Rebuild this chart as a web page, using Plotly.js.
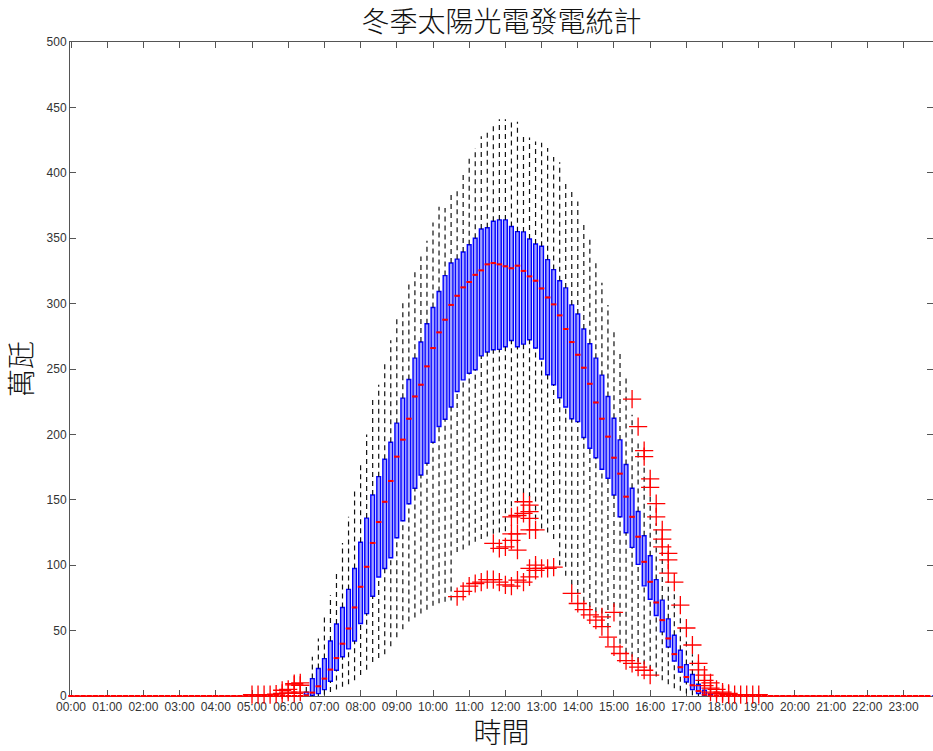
<!DOCTYPE html>
<html><head><meta charset="utf-8">
<script src="https://cdn.plot.ly/plotly-3.0.1.min.js"></script>
<style>html,body{margin:0;padding:0;background:#fff}#chart{width:933px;height:751px}</style>
</head><body><div id="chart"></div><script>
// 10-minute slots 00:00 .. 23:50 (144 slots)
const hourLabels = ["00:00","01:00","02:00","03:00","04:00","05:00","06:00","07:00","08:00","09:00","10:00","11:00",
  "12:00","13:00","14:00","15:00","16:00","17:00","18:00","19:00","20:00","21:00","22:00","23:00"];
const hourTickSlots = [0,6,12,18,24,30,36,42,48,54,60,66,72,78,84,90,96,102,108,114,120,126,132,138];

const lowerWhisker = [
  0,0,0,0,0,0,0,0,0,0, 0,0,0,0,0,0,0,0,0,0, 0,0,0,0,0,0,0,0,0,0, 0,0,0,0,0,0,0,0,0,
  0,0,0,1,3,5,7,9,12,16, 20,26,29,32,38,45,51,57,60,63, 66,69,71,72,73,110,112,115,118,120,
  122,124,125,126,145,148,155,152,135,128, 125,120,100,92,85,78,72,68,64,63, 52,68,40,33,30,26,24,20,15,12,
  9,6,4,2,0.5,0,0,0,
  0,0,0,0,0,0,0,0,0,0, 0,0,0,0,0,0,0,0,0,0, 0,0,0,0,0,0,0,0,0,0, 0,0,0,0,0,0,0];
const q1 = [
  0,0,0,0,0,0,0,0,0,0, 0,0,0,0,0,0,0,0,0,0, 0,0,0,0,0,0,0,0,0,0, 0,0,0,0,0,0,0,0,0,
  0,0.5,1.8,4.9,11.3,19.7,30,36,42,55.4, 63,76.3,91,97.5,105.7,121,134,147,158.8,169,
  178,194,206,211.6,221,232.8,241.7,246.8,249.4,260, 263,264.7,265,267,271.8,267,269,272.4,266,257.6,
  245.6,238,228,221,212,209.8,197.6,189.4,182.2,173.3, 166.5,153.7,137,124.8,113.6,100.6,84.2,74,61.5,49,
  37.5,26.8,18.4,10.7,4.9,1.8,0.5,0,
  0,0,0,0,0,0,0,0,0,0, 0,0,0,0,0,0,0,0,0,0, 0,0,0,0,0,0,0,0,0,0, 0,0,0,0,0,0,0];
const median = [
  0,0,0,0,0,0,0,0,0,0, 0,0,0,0,0,0,0,0,0,0, 0,0,0,0,0,0,0,0,0,0, 0,0,0,0,0,0,0,0,0,
  0.5,2.6,7.4,13.3,20.2,29,40,51.6,67.7,83.5, 98.8,117,133,148.5,164.4,183,196,212,229,238,
  252,266,278,287.7,299,306,312.4,316.5,322,325.4, 330,331,330,328.5,327,329,325,320.8,317.5,311.6,
  304.7,299.4,291,280.6,270.6,260.9,251,238.7,224.4,212, 198.3,182.2,170,152.4,137,121.8,102.6,87.3,71.5,58,
  44,32,22,14.5,8.2,3.8,1,0.3,
  0,0,0,0,0,0,0,0,0,0, 0,0,0,0,0,0,0,0,0,0, 0,0,0,0,0,0,0,0,0,0, 0,0,0,0,0,0,0];
const q3 = [
  0,0,0,0,0,0,0,0,0,0, 0,0,0,0,0,0,0,0,0,0, 0,0,0,0,0,0,0,0,0,0, 0,0,0,0,0,0,0,0,0,
  3,13.3,21,28.6,42,55,67.7,81.5,97.5,117.5, 136,153.7,167.7,181,194,208.6,227.7,242,258.3,270.6,
  284.6,297,309.3,321.4,331,334,339.5,345,350,357, 358,363,364,364,359,355,354.8,349.4,345.6,343.8,
  333.6,326,317.5,312,299,292,280.6,269.3,258.3,245.3, 229,212.4,195.8,177,158.8,141,122.5,107.2,89,73.3,
  59,46.5,35,24,16.4,9,4.4,1,
  0,0,0,0,0,0,0,0,0,0, 0,0,0,0,0,0,0,0,0,0, 0,0,0,0,0,0,0,0,0,0, 0,0,0,0,0,0,0];
const upperWhisker = [
  0,0,0,0,0,0,0,0,0,0, 0,0,0,0,0,0,0,0,0,0, 0,0,0,0,0,0,0,0,0,0, 0,0,0,0,0,0,0,0,0,
  10,30,44,60,77,96,117,137,157,179, 200,228,238,255,272,288,303,317,324,336,
  348,362,374,373,383,389,401,411,419,428, 433,438,441,441,439,439,429,427,424,423,
  419,412,408,393,388,378,362,350,332,316, 299,281,263,245,215,195,175,155,132,110,
  88,78,60,45,32,18,6,2.5,
  0,0,0,0,0,0,0,0,0,0, 0,0,0,0,0,0,0,0,0,0, 0,0,0,0,0,0,0,0,0,0, 0,0,0,0,0,0,0];

// outliers: slot index and value
const outlierSlot = [30,31,32,33,34,35,35,36,36,37,37,37,38,38,38,
  64,65,66,67,68,69,70,70,71,71,72,72,73,73,73,73,74,74,74,74,75,75,75,
  76,76,76,76,76,76,77,77,77,78,79,80,83,84,85,86,87,88,88,89,90,90,91,92,
  93,93,94,94,95,95,95,96,96,96,97,97,98,98,98,99,99,99,100,101,102,103,
  104,104,105,105,105,106,106,106,107,107,108,108,109,109,110,111,112,113,114];
const outlierValue = [1,1,1,1,1.5,2,4.4,3,5,2,8.5,9.5,3,8.2,10,
  76,80,84,86,87,89,89,116.7,87,112.8,85,114,84,119,124,137,88.6,111.5,124,138,87,139.6,148.5,
  91,97.5,127,135.8,141,146,96,100,127,97.5,97.5,98.5,78.4,70.7,66,62,58,60.5,53,45,37.5,64,32.5,27,
  25,227,22,206,19.7,187.6,183,16,166,159.5,147,137,127,120,114,109,104,94,87,69.4,52,39,
  25,20,16,12,8,10,6,3,5,2,3,1.5,2,1,1,1,1,1,1];

const slots = median.map((_, i) => i);
const wx = [], wy = [];
slots.forEach(i => {
  wx.push(i, i, null, i, i, null);
  wy.push(q3[i], upperWhisker[i], null, lowerWhisker[i], q1[i], null);
});

const traces = [
  {type:'box', x: slots, q1: q1, median: median, q3: q3, lowerfence: q1, upperfence: q3,
   width: 0.62, boxpoints: false, whiskerwidth: 0, line:{color:'#0000ff', width:1.4},
   fillcolor:'rgba(70,70,255,0.5)', hoverinfo:'skip', showlegend:false},
  {type:'scatter', mode:'lines', x: wx, y: wy, line:{color:'#111', width:1.2, dash:'5px,4px'},
   hoverinfo:'skip', showlegend:false, connectgaps:false},
  {type:'scatter', mode:'markers', x: outlierSlot, y: outlierValue, cliponaxis:false,
   marker:{symbol:'cross-thin', size:13, line:{color:'#ff0000', width:1.3}},
   hoverinfo:'skip', showlegend:false},
  {type:'scatter', mode:'markers', x: slots, y: median, cliponaxis:false,
   marker:{symbol:'line-ew', size:4, line:{color:'#ff0000', width:2}},
   hoverinfo:'skip', showlegend:false}
];

const tickFont = {family:'Liberation Sans, Arial, sans-serif', size:12, color:'#333'};
const layout = {
  width:933, height:751,
  margin:{l:70, r:0, t:42, b:55},
  paper_bgcolor:'#fff', plot_bgcolor:'#fff',
  title:{text:'冬季太陽光電發電統計', x:0.5, xref:'paper', xanchor:'center', y:0.97, yanchor:'middle',
    font:{family:'Noto Sans CJK TC', size:28, weight:300, color:'#111'}},
  xaxis:{range:[-0.17, 142.88], tickvals:hourTickSlots, ticktext:hourLabels, ticks:'inside', ticklen:6,
    tickcolor:'#555', showline:true, linecolor:'#555', linewidth:1, mirror:'ticks', showgrid:false, zeroline:false,
    tickfont:tickFont, tickangle:0, layer:'below traces',
    title:{text:'時間', font:{family:'Noto Sans CJK TC', size:28, weight:300, color:'#111'}, standoff:14}},
  yaxis:{range:[0,500], dtick:50, ticks:'inside', ticklen:6, tickcolor:'#555', showline:true, linecolor:'#555',
    linewidth:1, mirror:'ticks', showgrid:false, zeroline:false, tickfont:tickFont, layer:'below traces',
    title:{text:'萬瓩', font:{family:'Noto Sans CJK TC', size:28, weight:300, color:'#111'}, standoff:6}},
  hovermode:false
};
Plotly.newPlot('chart', traces, layout, {displayModeBar:false, staticPlot:true});
</script></body></html>
